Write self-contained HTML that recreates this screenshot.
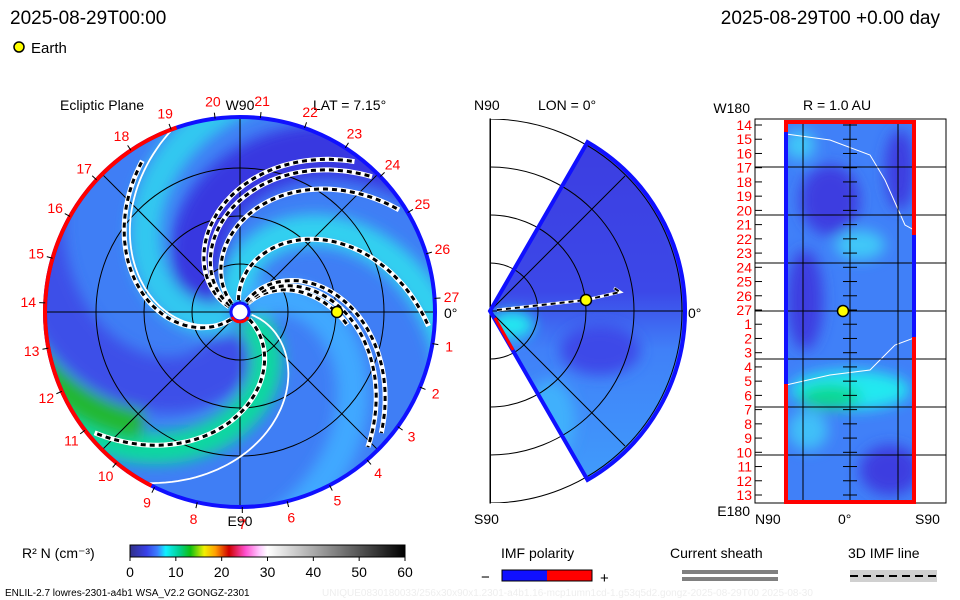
<!DOCTYPE html>
<html><head><meta charset="utf-8"><style>
html,body{margin:0;padding:0;background:#fff;}
svg{display:block;font-family:"Liberation Sans",sans-serif;}
</style></head><body>
<svg id="c" width="960" height="600" viewBox="0 0 960 600">
<defs>
<clipPath id="circ"><circle cx="240" cy="312" r="194"/></clipPath>
<clipPath id="wedge"><path d="M490,311 L587.5,142.1 A195,195 0 0 1 587.5,479.9 Z"/></clipPath>
<clipPath id="rbox"><rect x="786" y="122" width="128" height="380"/></clipPath>
<clipPath id="mbox"><rect x="490" y="119" width="200" height="384"/></clipPath>
<filter id="bl" x="-20%" y="-20%" width="140%" height="140%"><feGaussianBlur stdDeviation="7"/></filter>
<linearGradient id="cbar" x1="0" x2="1">
<stop offset="0" stop-color="#303088"/><stop offset="0.06" stop-color="#3840e8"/><stop offset="0.1" stop-color="#3c80ff"/><stop offset="0.13" stop-color="#10f0ff"/><stop offset="0.18" stop-color="#00d090"/><stop offset="0.22" stop-color="#10c010"/><stop offset="0.27" stop-color="#f0f000"/><stop offset="0.31" stop-color="#ffa000"/><stop offset="0.36" stop-color="#d00000"/><stop offset="0.42" stop-color="#ff50d0"/><stop offset="0.47" stop-color="#ffc8ff"/><stop offset="0.5" stop-color="#ffffff"/><stop offset="1" stop-color="#000000"/>
</linearGradient>
<linearGradient id="wg" x1="0" y1="0" x2="0" y2="1">
<stop offset="0" stop-color="#3c3ce0"/><stop offset="0.45" stop-color="#3c48e8"/><stop offset="0.6" stop-color="#4080f8"/><stop offset="1" stop-color="#40a0fc"/>
</linearGradient>
</defs>

<text x="10" y="24" font-size="19">2025-08-29T00:00</text>
<text x="940" y="24" font-size="19" text-anchor="end">2025-08-29T00 +0.00 day</text>
<circle cx="19" cy="47" r="5" fill="#ffff00" stroke="#000" stroke-width="1.5"/>
<text x="31" y="53" font-size="15">Earth</text>

<g id="ecl">
<text x="60" y="110" font-size="14">Ecliptic Plane</text>
<text x="313" y="110" font-size="14">LAT = 7.15°</text>
<text x="240" y="110" font-size="14" text-anchor="middle">W90</text>
<text x="240" y="526" font-size="14" text-anchor="middle">E90</text>
<text x="444" y="318" font-size="14">0°</text>
<g clip-path="url(#circ)"><circle cx="240" cy="312" r="194" fill="#3f7ef5"/><g id="bands" filter="url(#bl)"></g><g id="grid"></g><g id="spirals"></g></g>
<circle cx="240" cy="312" r="195" fill="none" stroke="#1010ff" stroke-width="4"/>
<path id="redarc" fill="none" stroke="#ff0000" stroke-width="4"/>
<g id="rotlabels"></g>
<circle cx="240" cy="312" r="9" fill="#fff" stroke="#1010ff" stroke-width="3"/>
<path d="M232,317 A9,9 0 0 0 248,317" fill="none" stroke="#ff0000" stroke-width="3"/>
<circle cx="337" cy="312" r="5.5" fill="#ffff00" stroke="#000" stroke-width="1.5"/>
</g>

<g>
<text x="474" y="110" font-size="14">N90</text>
<text x="538" y="110" font-size="14">LON = 0°</text>
<text x="474" y="524" font-size="14">S90</text>
<text x="688" y="318" font-size="14">0°</text>
<g clip-path="url(#wedge)">
<rect x="490" y="119" width="200" height="384" fill="url(#wg)"/>
<g filter="url(#bl)">
<path d="M675,210 A185,185 0 0 1 675,410" fill="none" stroke="#30d8f0" stroke-width="16"/>
<ellipse cx="512" cy="325" rx="22" ry="14" fill="#20e8f0"/>
<ellipse cx="600" cy="350" rx="40" ry="25" fill="#3c48e8"/>
<ellipse cx="550" cy="420" rx="25" ry="40" fill="#40b0fc"/>
</g>
</g>
<g clip-path="url(#mbox)" fill="none" stroke="#000" stroke-width="1">
<circle cx="490" cy="311" r="48"/><circle cx="490" cy="311" r="96"/><circle cx="490" cy="311" r="144"/><circle cx="490" cy="311" r="192"/>
<line x1="490" y1="311" x2="625" y2="176"/><line x1="490" y1="311" x2="625" y2="446"/><line x1="490" y1="311" x2="683" y2="311"/>
</g>
<rect x="490" y="119" width="0.5" height="384" fill="none" stroke="#000" stroke-width="1"/>
<path d="M490,311 L587.5,142.1 A195,195 0 0 1 587.5,479.9 Z" fill="none" stroke="#1010ff" stroke-width="4"/>
<line x1="495" y1="318" x2="513" y2="350" stroke="#ff0000" stroke-width="3"/>
<path d="M497,310 L586,300 L620,292 L614,288" fill="none" stroke="#fff" stroke-width="3"/>
<path d="M497,310 L586,300 L620,292 L614,288" fill="none" stroke="#000" stroke-width="2" stroke-dasharray="5,4"/>
<circle cx="586" cy="300" r="5.5" fill="#ffff00" stroke="#000" stroke-width="1.5"/>
</g>

<g>
<text x="750" y="113" font-size="14" text-anchor="end">W180</text>
<text x="803" y="110" font-size="14">R = 1.0 AU</text>
<text x="750" y="516" font-size="14" text-anchor="end">E180</text>
<text x="755" y="524" font-size="14">N90</text>
<text x="838" y="524" font-size="14">0°</text>
<text x="915" y="524" font-size="14">S90</text>
<rect x="755" y="119" width="191" height="384" fill="none" stroke="#000" stroke-width="1"/>
<g clip-path="url(#rbox)">
<rect x="786" y="122" width="128" height="380" fill="#4080f8"/>
<g filter="url(#bl)">
<ellipse cx="830" cy="200" rx="30" ry="35" fill="#3c3ce0"/>
<ellipse cx="805" cy="300" rx="18" ry="50" fill="#3c3ce0"/>
<ellipse cx="900" cy="170" rx="15" ry="40" fill="#3c3ce0"/>
<ellipse cx="890" cy="470" rx="30" ry="25" fill="#3c3ce0"/>
<ellipse cx="860" cy="245" rx="25" ry="15" fill="#40c8f8"/>
<ellipse cx="800" cy="145" rx="15" ry="15" fill="#40c8f8"/>
<ellipse cx="850" cy="390" rx="60" ry="20" fill="#20e8f0"/>
<ellipse cx="830" cy="397" rx="30" ry="12" fill="#10d890"/>
<ellipse cx="808" cy="430" rx="20" ry="20" fill="#40c0f8"/>
</g>
<path d="M786,134 L830,140 L870,155 L885,180 L905,225 L914,230" fill="none" stroke="#fff" stroke-width="1"/>
<path d="M786,385 L830,375 L870,370 L895,345 L914,338" fill="none" stroke="#fff" stroke-width="1"/>
</g>
<g id="rgrid" stroke="#000" stroke-width="1"></g>
<g id="rticks"></g>
<rect x="786" y="122" width="128" height="380" fill="none" stroke="#ff0000" stroke-width="4"/>
<line x1="786" y1="132" x2="786" y2="384" stroke="#1010ff" stroke-width="4"/>
<line x1="914" y1="235" x2="914" y2="337" stroke="#1010ff" stroke-width="4"/>
<circle cx="843" cy="311" r="5.5" fill="#ffff00" stroke="#000" stroke-width="1.5"/>
</g>

<g>
<text x="22" y="558" font-size="14">R² N (cm⁻³)</text>
<rect x="130" y="545" width="275" height="12" fill="url(#cbar)" stroke="#000" stroke-width="1"/>
<g id="cbticks"></g>
</g>
<text x="5" y="596" font-size="10">ENLIL-2.7 lowres-2301-a4b1 WSA_V2.2 GONGZ-2301</text>
<text x="322" y="596" font-size="10" fill="#eeeeee">UNIQUE0830180033/256x30x90x1.2301-a4b1.16-mcp1umn1cd-1.g53q5d2.gongz-2025-08-29T00    2025-08-30</text>

<g>
<text x="501" y="558" font-size="14">IMF polarity</text>
<text x="481" y="582" font-size="15">−</text>
<rect x="502" y="570" width="45" height="11" fill="#1010ff"/>
<rect x="547" y="570" width="45" height="11" fill="#ff0000"/>
<rect x="502" y="570" width="90" height="11" fill="none" stroke="#000" stroke-width="1"/>
<text x="600" y="583" font-size="15">+</text>
<text x="670" y="558" font-size="14">Current sheath</text>
<rect x="682" y="570" width="96" height="4" fill="#808080"/>
<rect x="682" y="577" width="96" height="4" fill="#808080"/>
<text x="848" y="558" font-size="14">3D IMF line</text>
<rect x="850" y="570" width="87" height="12" fill="#d0d0d0"/>
<line x1="850" y1="576" x2="937" y2="576" stroke="#000" stroke-width="2" stroke-dasharray="8,5"/>
</g>
</svg>
<script>
const spiralStarts = [-226, -161, -154, -141, -104, -55, -60, -66, 32];
const sheathStarts = [-222, 7];
const spiralEndR = [182, 190, 190, 191, 191, 110, 188, 188, 190];
const bandStarts = [-166, 76, -211, 30, -111, -44, 45];
const bandColors = ['#3838e0', '#3c50e8', '#30c8f0', '#10d8a0', '#30d0f0', '#40a8ff', '#20b830'];
const rotationLabels = [27,1,2,3,4,5,6,7,8,9,10,11,12,13,14,15,16,17,18,19,20,21,22,23,24,25,26];
const latLabels = [14,15,16,17,18,19,20,21,22,23,24,25,26,27,1,2,3,4,5,6,7,8,9,10,11,12,13];
const cbTicks = [0,10,20,30,40,50,60];
const redArcFrom = 117, redArcTo = 251;

const NS = 'http://www.w3.org/2000/svg';
const CX = 240, CY = 312, AU = 96, RATE = 55;
function mk(tag, attrs, parent){const e=document.createElementNS(NS,tag);for(const k in attrs)e.setAttribute(k,attrs[k]);parent.appendChild(e);return e;}
function pt(r, deg){const a=deg*Math.PI/180;return [CX+r*Math.cos(a), CY+r*Math.sin(a)];}
function spiralPath(phi0, r0, r1){let d='';for(let r=r0;r<=r1;r+=3){const p=pt(r,phi0+r/AU*RATE);d+=(d?'L':'M')+p[0].toFixed(1)+','+p[1].toFixed(1);}return d;}

const bands=document.getElementById('bands');
bandStarts.forEach((b,i)=>{
  const p=mk('path',{d:spiralPath(b, i===6?150:10, 230),fill:'none',stroke:bandColors[i],'stroke-width':i===6?30:(i<2?55:32)},bands);
  
  
});
const grid=document.getElementById('grid');
[48,96,144].forEach(r=>mk('circle',{cx:CX,cy:CY,r:r,fill:'none',stroke:'#000','stroke-width':1},grid));
[0,45,90,135].forEach(a=>{const p=pt(200,a),q=pt(200,a+180);mk('line',{x1:p[0],y1:p[1],x2:q[0],y2:q[1],stroke:'#000','stroke-width':1},grid);});
const sp=document.getElementById('spirals');
sheathStarts.forEach(s=>{
  const e=mk('path',{d:spiralPath(s,12,200),fill:'none',stroke:'#fff','stroke-width':1.8},sp);
  
  
});
spiralStarts.forEach((s,i)=>{
  const d=spiralPath(s,12,spiralEndR[i]);
  mk('path',{d:d,fill:'none',stroke:'#fff','stroke-width':5},sp);
  const e=mk('path',{d:d,fill:'none',stroke:'#000','stroke-width':3,'stroke-dasharray':'5,4'},sp);
  
  
});
const a0=pt(195,redArcFrom),a1=pt(195,redArcTo);
document.getElementById('redarc').setAttribute('d','M'+a0[0]+','+a0[1]+' A195,195 0 0 1 '+a1[0]+','+a1[1]);
const rl=document.getElementById('rotlabels');
rotationLabels.forEach((n,k)=>{
  const ang=-4+k*360/27;const p=pt(212,ang);const t=pt(195,ang),t2=pt(201,ang);
  mk('line',{x1:t[0],y1:t[1],x2:t2[0],y2:t2[1],stroke:'#000','stroke-width':1},rl);
  const e=mk('text',{x:p[0],y:p[1]+5,'font-size':14,fill:'#ff0000','text-anchor':'middle'},rl);
  e.textContent=n;
  
  
});
const rg=document.getElementById('rgrid');
[167,215,263,311,359,407,455].forEach(y=>mk('line',{x1:755,y1:y,x2:946,y2:y},rg));
[803,850,898].forEach(x=>mk('line',{x1:x,y1:122,x2:x,y2:502},rg));
const rt=document.getElementById('rticks');
latLabels.forEach((n,i)=>{
  const y=125+i*(370/26);
  mk('line',{x1:755,y1:y,x2:762,y2:y,stroke:'#000'},rt);
  mk('line',{x1:843,y1:y,x2:857,y2:y,stroke:'#000'},rt);
  const e=mk('text',{x:752,y:y+5,'font-size':14,fill:'#ff0000','text-anchor':'end'},rt);
  e.textContent=n;
  
  
});
const cb=document.getElementById('cbticks');
cbTicks.forEach(v=>{
  const x=130+v/60*275;
  mk('line',{x1:x,y1:557,x2:x,y2:561,stroke:'#000'},cb);
  const e=mk('text',{x:x,y:577,'font-size':14,'text-anchor':'middle'},cb);
  e.textContent=v;
  
  
});
</script>
</body></html>
